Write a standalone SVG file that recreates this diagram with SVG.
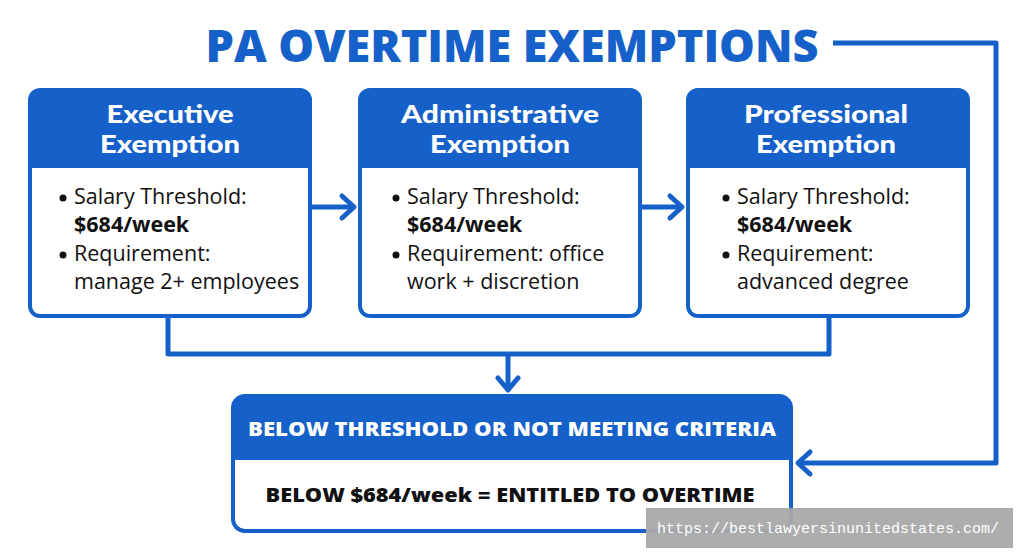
<svg xmlns="http://www.w3.org/2000/svg" width="1024" height="559" viewBox="0 0 1024 559">
<style>
.box{fill:#fff;stroke:#1560c9;stroke-width:4}
.hdr{fill:#1560c9}
.ht{font-family:Lato,"Open Sans","Liberation Sans",sans-serif;font-weight:900;font-size:24.5px;fill:#fff;text-anchor:middle}
.bt{font-family:"Open Sans","Liberation Sans",sans-serif;font-size:21.5px;fill:#111}
.bb{font-weight:700}
.ln{fill:none;stroke:#1560c9;stroke-width:5;stroke-linejoin:round}
.ah{fill:none;stroke:#1560c9;stroke-width:5;stroke-linecap:round;stroke-linejoin:round}
</style>
<rect width="1024" height="559" fill="#fff"/>
<text x="512" y="62" text-anchor="middle" font-family="'Open Sans','Liberation Sans',sans-serif" font-weight="800" font-size="45" fill="#1560c9" textLength="613" lengthAdjust="spacingAndGlyphs">PA OVERTIME EXEMPTIONS</text>
<g id="connectors">
<path class="ln" d="M310 207 H352"/>
<path class="ah" d="M342 196 L354 207 L342 218"/>
<path class="ln" d="M640 207 H680"/>
<path class="ah" d="M670 196 L682 207 L670 218"/>
<path class="ln" d="M168 316 V354 H829 V316"/>
<path class="ln" d="M508 354 V388"/>
<path class="ah" d="M498 378 L508 390 L518 378"/>
<path class="ln" d="M833 43 H996 V463 H800"/>
<path class="ah" d="M810 452 L798 463 L810 474"/>
</g>
<g id="executive">
<rect class="box" x="30" y="90" width="280" height="226" rx="10"/>
<path class="hdr" d="M40 90 H300 A10 10 0 0 1 310 100 V168 H30 V100 A10 10 0 0 1 40 90 Z"/>
<text class="ht" x="170" y="123" textLength="127" lengthAdjust="spacingAndGlyphs">Executive</text>
<text class="ht" x="170" y="153" textLength="140" lengthAdjust="spacingAndGlyphs">Exemption</text>
<circle cx="63" cy="198" r="3.5" fill="#111"/>
<text class="bt" x="74" y="204">Salary Threshold:</text>
<text class="bt bb" x="74" y="232">$684/week</text>
<circle cx="63" cy="255" r="3.5" fill="#111"/>
<text class="bt" x="74" y="261">Requirement:</text>
<text class="bt" x="74" y="289">manage 2+ employees</text>
</g>
<g id="administrative">
<rect class="box" x="360" y="90" width="280" height="226" rx="10"/>
<path class="hdr" d="M370 90 H630 A10 10 0 0 1 640 100 V168 H360 V100 A10 10 0 0 1 370 90 Z"/>
<text class="ht" x="500" y="123" textLength="198" lengthAdjust="spacingAndGlyphs">Administrative</text>
<text class="ht" x="500" y="153" textLength="140" lengthAdjust="spacingAndGlyphs">Exemption</text>
<circle cx="396" cy="198" r="3.5" fill="#111"/>
<text class="bt" x="407" y="204">Salary Threshold:</text>
<text class="bt bb" x="407" y="232">$684/week</text>
<circle cx="396" cy="255" r="3.5" fill="#111"/>
<text class="bt" x="407" y="261">Requirement: office</text>
<text class="bt" x="407" y="289">work + discretion</text>
</g>
<g id="professional">
<rect class="box" x="688" y="90" width="280" height="226" rx="10"/>
<path class="hdr" d="M698 90 H958 A10 10 0 0 1 968 100 V168 H688 V100 A10 10 0 0 1 698 90 Z"/>
<text class="ht" x="826" y="123" textLength="164" lengthAdjust="spacingAndGlyphs">Professional</text>
<text class="ht" x="826" y="153" textLength="140" lengthAdjust="spacingAndGlyphs">Exemption</text>
<circle cx="726" cy="198" r="3.5" fill="#111"/>
<text class="bt" x="737" y="204">Salary Threshold:</text>
<text class="bt bb" x="737" y="232">$684/week</text>
<circle cx="726" cy="255" r="3.5" fill="#111"/>
<text class="bt" x="737" y="261">Requirement:</text>
<text class="bt" x="737" y="289">advanced degree</text>
</g>
<g id="below">
<rect class="box" x="233" y="396" width="558" height="135" rx="12"/>
<path class="hdr" d="M245 396 H779 A12 12 0 0 1 791 408 V460 H233 V408 A12 12 0 0 1 245 396 Z"/>
<text x="512" y="436" text-anchor="middle" font-family="'Open Sans','Liberation Sans',sans-serif" font-weight="800" font-size="20" fill="#fff" textLength="528" lengthAdjust="spacingAndGlyphs">BELOW THRESHOLD OR NOT MEETING CRITERIA</text>
<text x="510" y="502" text-anchor="middle" font-family="'Open Sans','Liberation Sans',sans-serif" font-weight="800" font-size="20" fill="#111" textLength="489" lengthAdjust="spacingAndGlyphs">BELOW $684/week = ENTITLED TO OVERTIME</text>
</g>
<rect x="646" y="508" width="367" height="40" fill="#a9a9a9" opacity="0.95"/>
<text x="828" y="533" text-anchor="middle" font-family="'Liberation Mono','DejaVu Sans Mono',monospace" font-size="15" fill="#fff">https://bestlawyersinunitedstates.com/</text>
</svg>
